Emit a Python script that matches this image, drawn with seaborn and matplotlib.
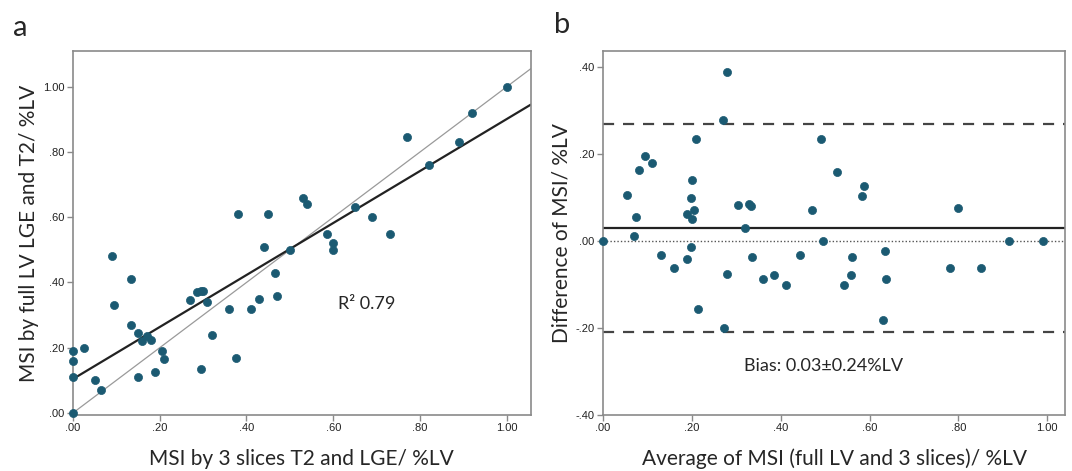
import matplotlib
matplotlib.use("Agg")
import matplotlib.pyplot as plt
import numpy as np
import pandas as pd
import seaborn as sns
from matplotlib.ticker import FuncFormatter

# panel a: MSI by 3 slices (x) vs MSI by full LV (y)
slices_msi = [0.38, 0.45, 0.44, 1.00, 0.92, 0.77, 0.89, 0.82, 0.53, 0.54,
              0.65, 0.69, 0.585, 0.60, 0.73, 0.60, 0.50, 0.09, 0.135, 0.465,
              0.47, 0.43, 0.41, 0.36, 0.285, 0.295, 0.30, 0.27, 0.31, 0.095,
              0.135, 0.15, 0.16, 0.17, 0.18, 0.32, 0.375, 0.205, 0.21, 0.025,
              0.00, 0.00, 0.00, 0.05, 0.065, 0.15, 0.19, 0.295, 0.00]
full_msi = [0.61, 0.61, 0.51, 1.00, 0.92, 0.845, 0.83, 0.76, 0.66, 0.64,
            0.63, 0.60, 0.55, 0.52, 0.55, 0.50, 0.50, 0.48, 0.41, 0.43,
            0.36, 0.35, 0.32, 0.32, 0.37, 0.375, 0.375, 0.345, 0.34, 0.33,
            0.27, 0.245, 0.22, 0.235, 0.225, 0.24, 0.17, 0.19, 0.165, 0.20,
            0.19, 0.16, 0.11, 0.10, 0.07, 0.11, 0.125, 0.135, 0.00]

# panel b: Bland-Altman
avg_msi = [0.28, 0.27, 0.21, 0.49, 0.095, 0.11, 0.08, 0.20, 0.053, 0.197,
           0.305, 0.328, 0.334, 0.47, 0.074, 0.19, 0.204, 0.20, 0.32, 0.07,
           0.00, 0.495, 0.198, 0.527, 0.587, 0.582, 0.80, 0.915, 0.99, 0.13,
           0.188, 0.16, 0.336, 0.444, 0.278, 0.36, 0.386, 0.412, 0.214, 0.273,
           0.56, 0.634, 0.558, 0.543, 0.637, 0.63, 0.782, 0.851]
diff_msi = [0.39, 0.28, 0.235, 0.235, 0.195, 0.18, 0.163, 0.14, 0.107, 0.10,
            0.083, 0.085, 0.08, 0.072, 0.055, 0.062, 0.071, 0.052, 0.03, 0.013,
            0.00, 0.00, -0.014, 0.16, 0.128, 0.103, 0.076, 0.00, 0.00, -0.032,
            -0.04, -0.062, -0.036, -0.031, -0.075, -0.088, -0.077, -0.10, -0.157, -0.20,
            -0.036, -0.022, -0.079, -0.10, -0.088, -0.182, -0.062, -0.062]

bias = 0.03
limit = 0.24
r_squared = 0.79

dot_color = "#1b5a72"
spine_color = "#8a8a8a"

sns.set_style("white")
plt.rcParams["font.family"] = ["Liberation Sans", "DejaVu Sans"]
label_font = "Lato"


def short_fmt(v, pos):
    s = "%.2f" % v
    if s.startswith("0."):
        s = s[1:]
    elif s.startswith("-0."):
        s = "-" + s[2:]
    return s


def style_axes(ax):
    for sp in ax.spines.values():
        sp.set_color(spine_color)
        sp.set_linewidth(1.2)
    ax.tick_params(direction="out", length=4, width=1, color=spine_color,
                   labelsize=8, pad=2, bottom=True, left=True,
                   labelcolor="#222222")
    ax.xaxis.set_major_formatter(FuncFormatter(short_fmt))
    ax.yaxis.set_major_formatter(FuncFormatter(short_fmt))


fig = plt.figure(figsize=(10.72, 4.71), dpi=100)
ax1 = fig.add_axes([0.068, 0.119, 0.427, 0.773])
ax2 = fig.add_axes([0.5625, 0.119, 0.431, 0.773])

df_a = pd.DataFrame({"slices": slices_msi, "full": full_msi})
ax1.set_xlim(0, 1.055)
ax1.set_ylim(-0.006, 1.11)
ax1.axline((0, 0), slope=1, color="#9a9a9a", lw=0.9, zorder=1)
sns.regplot(data=df_a, x="slices", y="full", ax=ax1, ci=None, truncate=False,
            scatter_kws=dict(s=34, color=dot_color, edgecolor=dot_color,
                             linewidths=0.5, alpha=1, zorder=3, clip_on=False),
            line_kws=dict(color="#222222", lw=1.6, zorder=2))
ax1.set_xlim(0, 1.055)
ax1.set_ylim(-0.006, 1.11)
ax1.set_xticks(np.arange(0, 1.01, 0.2))
ax1.set_yticks(np.arange(0, 1.01, 0.2))
style_axes(ax1)
ax1.set_xlabel("MSI by 3 slices T2 and LGE/ %LV", fontsize=15,
               family=label_font, labelpad=11)
ax1.set_ylabel("MSI by full LV LGE and T2/ %LV", fontsize=15,
               family=label_font, labelpad=3)
ax1.text(0.677, 0.335, "R\u00b2 %.2f" % r_squared,
         fontsize=13, family=label_font, ha="center", va="center")

df_b = pd.DataFrame({"avg": avg_msi, "diff": diff_msi})
sns.scatterplot(data=df_b, x="avg", y="diff", ax=ax2, s=34, color=dot_color,
                edgecolor=dot_color, linewidth=0.5, zorder=3, clip_on=False)
ax2.axhline(bias + limit, color="#444444", lw=1.6, ls=(0, (5, 4)), zorder=2)
ax2.axhline(bias - limit, color="#444444", lw=1.6, ls=(0, (5, 4)), zorder=2)
ax2.axhline(bias, color="#222222", lw=1.6, zorder=2)
ax2.axhline(0, color="#555555", lw=1.0, ls=(0, (1, 1.5)), zorder=2)
ax2.set_xlim(0, 1.04)
ax2.set_ylim(-0.40, 0.438)
ax2.set_xticks(np.arange(0, 1.01, 0.2))
ax2.set_yticks(np.arange(-0.4, 0.41, 0.2))
style_axes(ax2)
ax2.set_xlabel("Average of MSI (full LV and 3 slices)/ %LV", fontsize=15,
               family=label_font, labelpad=11)
ax2.set_ylabel("Difference of MSI/ %LV", fontsize=15, family=label_font,
               labelpad=3)
ax2.text(0.497, -0.287, "Bias: %.2f\u00b1%.2f%%LV" % (bias, limit),
         fontsize=13, family=label_font, ha="center", va="center")

fig.text(0.012, 0.924, "a", fontsize=21, family=label_font, va="baseline")
fig.text(0.517, 0.93, "b", fontsize=21, family=label_font, va="baseline")

fig.savefig("out.png", dpi=100)
